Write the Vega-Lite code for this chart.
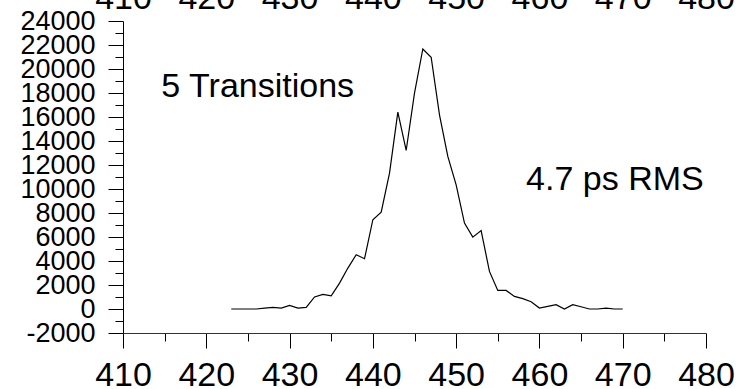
{
  "$schema": "https://vega.github.io/schema/vega-lite/v6.json",
  "autosize": {"type": "none"},
  "padding": {"left": 123, "top": 21, "right": 33, "bottom": 56},
  "width": 583,
  "height": 312,
  "background": "white",
  "config": {
    "font": "Liberation Sans",
    "view": {"stroke": null},
    "axis": {"grid": false, "domainColor": "black", "tickColor": "black", "labelColor": "black", "labelFont": "Liberation Sans", "domainWidth": 1, "tickWidth": 1, "title": null}
  },
  "datasets": {
    "hist": [
      {"t": 423, "count": 0}, {"t": 424, "count": 0}, {"t": 425, "count": 0}, {"t": 426, "count": 0},
      {"t": 427, "count": 80}, {"t": 428, "count": 130}, {"t": 429, "count": 80}, {"t": 430, "count": 300},
      {"t": 431, "count": 80}, {"t": 432, "count": 130}, {"t": 433, "count": 1000}, {"t": 434, "count": 1220},
      {"t": 435, "count": 1100}, {"t": 436, "count": 2160}, {"t": 437, "count": 3410}, {"t": 438, "count": 4520},
      {"t": 439, "count": 4190}, {"t": 440, "count": 7440}, {"t": 441, "count": 8070}, {"t": 442, "count": 11320},
      {"t": 443, "count": 16400}, {"t": 444, "count": 13210}, {"t": 445, "count": 17990}, {"t": 446, "count": 21670},
      {"t": 447, "count": 20980}, {"t": 448, "count": 16180}, {"t": 449, "count": 12710}, {"t": 450, "count": 10350},
      {"t": 451, "count": 7160}, {"t": 452, "count": 5990}, {"t": 453, "count": 6540}, {"t": 454, "count": 3130},
      {"t": 455, "count": 1550}, {"t": 456, "count": 1550}, {"t": 457, "count": 1050}, {"t": 458, "count": 860},
      {"t": 459, "count": 610}, {"t": 460, "count": 80}, {"t": 461, "count": 220}, {"t": 462, "count": 360},
      {"t": 463, "count": 0}, {"t": 464, "count": 360}, {"t": 465, "count": 190}, {"t": 466, "count": 0},
      {"t": 467, "count": 0}, {"t": 468, "count": 80}, {"t": 469, "count": 0}, {"t": 470, "count": 0}
    ],
    "notes": [
      {"t": 414.6, "count": 17677, "label": "5 Transitions"},
      {"t": 458.4, "count": 9933, "label": "4.7 ps RMS"}
    ]
  },
  "resolve": {"axis": {"x": "independent"}},
  "encoding": {
    "y": {
      "field": "count", "type": "quantitative",
      "scale": {"domain": [-2000, 24000], "nice": false, "zero": false},
      "axis": {
        "orient": "left",
        "domain": true,
        "values": [-2000, -1000, 0, 1000, 2000, 3000, 4000, 5000, 6000, 7000, 8000, 9000, 10000, 11000, 12000, 13000, 14000, 15000, 16000, 17000, 18000, 19000, 20000, 21000, 22000, 23000, 24000],
        "tickSize": {"condition": {"test": "datum.value % 2000 === 0", "value": 15}, "value": 8},
        "labelExpr": "datum.value % 2000 === 0 ? '' + datum.value : ''",
        "labelFontSize": 27,
        "labelPadding": 13,
        "labelFlush": false,
        "labelOverlap": false
      }
    }
  },
  "layer": [
    {
      "data": {"name": "hist"},
      "mark": {"type": "line", "color": "black", "strokeWidth": 1.2},
      "encoding": {
        "x": {
          "field": "t", "type": "quantitative",
          "scale": {"domain": [410, 480], "nice": false, "zero": false},
          "axis": {
            "orient": "bottom",
            "domain": true,
            "domainColor": "#333333",
            "domainWidth": 1.2,
            "values": [410, 415, 420, 425, 430, 435, 440, 445, 450, 455, 460, 465, 470, 475, 480],
            "tickSize": {"condition": {"test": "datum.value % 10 === 0", "value": 15}, "value": 8},
            "labelExpr": "datum.value % 10 === 0 ? '' + datum.value : ''",
            "labelFontSize": 34,
            "labelPadding": 10,
            "labelFlush": false,
            "labelOverlap": false
          }
        }
      }
    },
    {
      "data": {"name": "notes"},
      "mark": {"type": "text", "align": "left", "baseline": "alphabetic", "fontSize": 34, "color": "black"},
      "encoding": {
        "x": {
          "field": "t", "type": "quantitative",
          "axis": {
            "orient": "top",
            "values": [410, 420, 430, 440, 450, 460, 470, 480],
            "domain": false,
            "ticks": false,
            "tickSize": 0,
            "labelFontSize": 34,
            "labelPadding": 6,
            "labelFlush": false,
            "labelOverlap": false,
            "format": "d"
          }
        },
        "text": {"field": "label"}
      }
    }
  ]
}
